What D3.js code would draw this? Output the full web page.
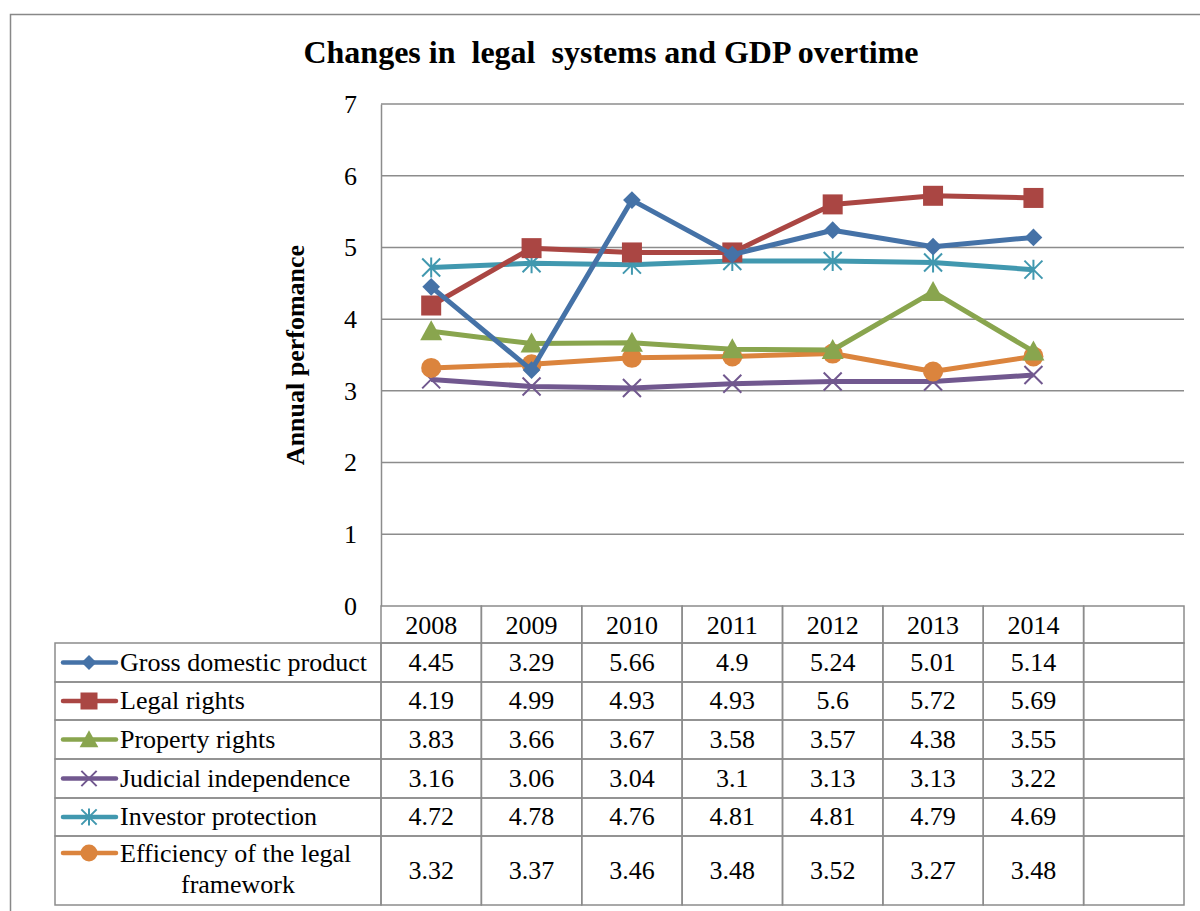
<!DOCTYPE html>
<html><head><meta charset="utf-8">
<script src="https://cdn.jsdelivr.net/npm/d3@7"></script>
<style>body{margin:0;background:#fff}svg{display:block}text{font-family:"Liberation Serif","Times New Roman",serif;fill:#000}</style>
</head><body><svg id="c" width="1200" height="911"></svg>
<script>
const categories = ["2008","2009","2010","2011","2012","2013","2014",""];
const seriesNames = ["Gross domestic product","Legal rights","Property rights","Judicial independence","Investor protection","Efficiency of the legal framework"];
const gdp = [4.45,3.29,5.66,4.9,5.24,5.01,5.14];
const legalRights = [4.19,4.99,4.93,4.93,5.6,5.72,5.69];
const propertyRights = [3.83,3.66,3.67,3.58,3.57,4.38,3.55];
const judicial = [3.16,3.06,3.04,3.1,3.13,3.13,3.22];
const investor = [4.72,4.78,4.76,4.81,4.81,4.79,4.69];
const efficiency = [3.32,3.37,3.46,3.48,3.52,3.27,3.48];
const tableLabels = [["4.45","3.29","5.66","4.9","5.24","5.01","5.14"],["4.19","4.99","4.93","4.93","5.6","5.72","5.69"],["3.83","3.66","3.67","3.58","3.57","4.38","3.55"],["3.16","3.06","3.04","3.1","3.13","3.13","3.22"],["4.72","4.78","4.76","4.81","4.81","4.79","4.69"],["3.32","3.37","3.46","3.48","3.52","3.27","3.48"]];
const yTicks = [0,1,2,3,4,5,6,7];

const allSeries = [gdp,legalRights,propertyRights,judicial,investor,efficiency];
const colors = ["#4572A7","#AA4643","#89A54E","#71588F","#4198AF","#DB843D"];
const markers = ["diamond","square","triangle","x","star","circle"];

const FS = 26;
const svg = d3.select("#c");
const grid = "#8c8c8c";
svg.append("rect").attr("x",10.5).attr("y",14.5).attr("width",1200).attr("height",1000).attr("fill","none").attr("stroke","#888").attr("stroke-width",1.5);

svg.append("text").attr("x",611).attr("y",63).attr("text-anchor","middle").attr("font-size",32).attr("font-weight","bold").style("white-space","pre").text("Changes in  legal  systems and GDP overtime");

const x = d3.scaleBand().domain(categories).range([381,1184]);
const y = d3.scaleLinear().domain([0,7]).range([606,104]);

svg.append("g").selectAll("line").data(yTicks.filter(d=>d>0)).join("line")
  .attr("x1",381).attr("x2",1184).attr("y1",d=>y(d)).attr("y2",d=>y(d)).attr("stroke",grid).attr("stroke-width",1.5);
const ya = svg.append("g").attr("transform","translate(381,0)").call(d3.axisLeft(y).tickValues(yTicks).tickFormat(d3.format("d")).tickSize(0).tickPadding(24));
ya.select(".domain").attr("stroke",grid).attr("stroke-width",1.5);
ya.selectAll("text").attr("font-size",FS).attr("font-family","Liberation Serif").attr("dy","0.32em");

svg.append("text").attr("transform","translate(304,355) rotate(-90)").attr("text-anchor","middle").attr("font-size",FS).attr("font-weight","bold").text("Annual perfomance");

const rowY = [606,643,682,720,759,798,836,905];
const tg = svg.append("g");
categories.forEach(c=>{
  tg.append("rect").attr("x",x(c)).attr("y",rowY[0]).attr("width",x.bandwidth()).attr("height",rowY[1]-rowY[0]).attr("fill","none").attr("stroke",grid).attr("stroke-width",1.5);
  tg.append("text").attr("x",x(c)+x.bandwidth()/2).attr("y",634).attr("text-anchor","middle").attr("font-size",FS).text(c);
});
for(let r=0;r<6;r++){
  const y0=rowY[r+1], y1=rowY[r+2], cy=(y0+y1)/2;
  tg.append("rect").attr("x",55).attr("y",y0).attr("width",381-55).attr("height",y1-y0).attr("fill","none").attr("stroke",grid).attr("stroke-width",1.5);
  categories.forEach((c,i)=>{
    tg.append("rect").attr("x",x(c)).attr("y",y0).attr("width",x.bandwidth()).attr("height",y1-y0).attr("fill","none").attr("stroke",grid).attr("stroke-width",1.5);
    if(i<7) tg.append("text").attr("x",x(c)+x.bandwidth()/2).attr("y",cy+8).attr("text-anchor","middle").attr("font-size",FS).text(tableLabels[r][i]);
  });
  const ly = r<5 ? cy : y0+17;
  tg.append("line").attr("x1",63).attr("x2",116).attr("y1",ly).attr("y2",ly).attr("stroke",colors[r]).attr("stroke-width",4.5).attr("stroke-linecap","round");
  drawMarker(tg, markers[r], 89, ly, colors[r], 0.85);
  if(r<5) tg.append("text").attr("x",120).attr("y",cy+8).attr("font-size",FS).text(seriesNames[r]);
  else {
    tg.append("text").attr("x",120).attr("y",y0+26).attr("font-size",FS).text("Efficiency of the legal");
    tg.append("text").attr("x",238).attr("y",y0+57).attr("text-anchor","middle").attr("font-size",FS).text("framework");
  }
}

function drawMarker(g, type, cx, cy, col, s){
  s = s||1;
  if(type==="diamond") g.append("path").attr("d",d3.symbol(d3.symbolDiamond2, 200*s*s)()).attr("transform",`translate(${cx},${cy})`).attr("fill",col);
  else if(type==="square") g.append("rect").attr("x",cx-10*s).attr("y",cy-10*s).attr("width",20*s).attr("height",20*s).attr("fill",col);
  else if(type==="triangle") g.append("path").attr("d",`M${cx},${cy-11*s}L${cx+11*s},${cy+9*s}L${cx-11*s},${cy+9*s}Z`).attr("fill",col);
  else if(type==="circle") g.append("circle").attr("cx",cx).attr("cy",cy).attr("r",10*s).attr("fill",col);
  else if(type==="x") g.append("path").attr("d",`M${cx-9*s},${cy-9*s}L${cx+9*s},${cy+9*s}M${cx-9*s},${cy+9*s}L${cx+9*s},${cy-9*s}`).attr("stroke",col).attr("stroke-width",2);
  else if(type==="star") g.append("path").attr("d",`M${cx-9*s},${cy-9*s}L${cx+9*s},${cy+9*s}M${cx-9*s},${cy+9*s}L${cx+9*s},${cy-9*s}M${cx},${cy-10*s}L${cx},${cy+10*s}`).attr("stroke",col).attr("stroke-width",2);
}

const line = d3.line().x((d,i)=>x(categories[i])+x.bandwidth()/2).y(d=>y(d));
const order = [3,5,2,4,1,0];
order.forEach(k=>{
  const g = svg.append("g");
  g.append("path").attr("d",line(allSeries[k])).attr("fill","none").attr("stroke",colors[k]).attr("stroke-width",5).attr("stroke-linejoin","round");
  allSeries[k].forEach((v,i)=>drawMarker(g, markers[k], x(categories[i])+x.bandwidth()/2, y(v), colors[k], 1));
});
</script></body></html>
